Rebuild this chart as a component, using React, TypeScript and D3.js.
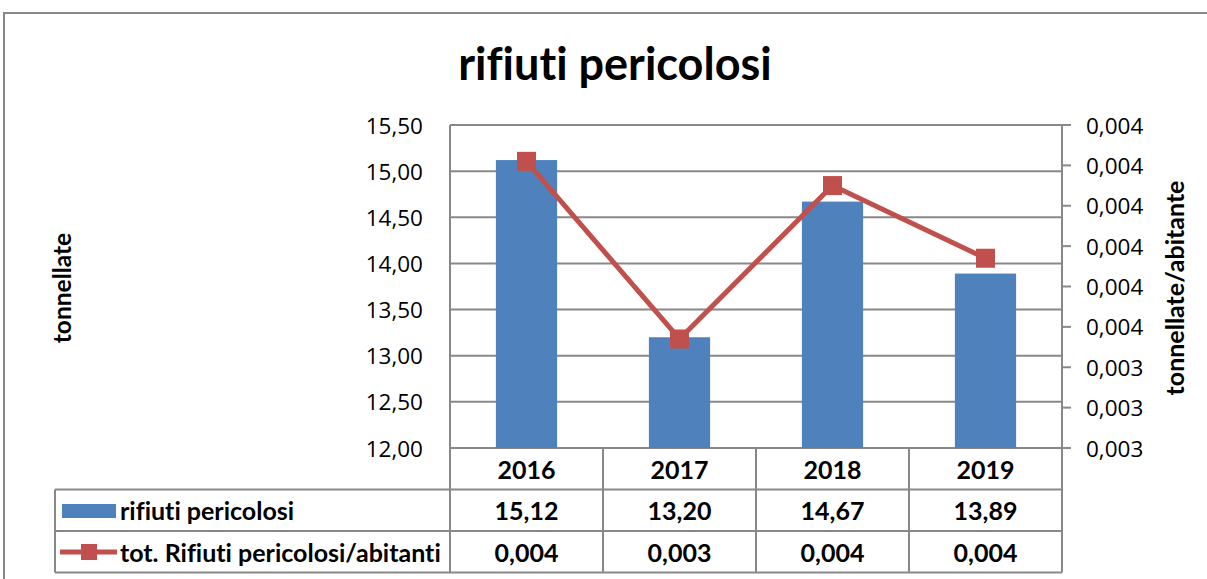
import * as d3 from 'd3';
import * as React from 'react';

const years = ['2016', '2017', '2018', '2019'];
const rifiuti = [15.12, 13.2, 14.67, 13.89];
const perAbitante = [0.00391, 0.00347, 0.00385, 0.00367];
const tableRifiuti = ['15,12', '13,20', '14,67', '13,89'];
const tablePerAbitante = ['0,004', '0,003', '0,004', '0,004'];

const barColor = '#4F81BD';
const lineColor = '#C0504D';
const gridColor = '#888888';
const boldFont = 'Lato, "Open Sans", sans-serif';
const tickFont = '"Open Sans", "DejaVu Sans", sans-serif';
const noLig = { fontVariantLigatures: 'none', fontFeatureSettings: '"liga" 0' } as React.CSSProperties;

const it = d3.formatLocale({ decimal: ',', thousands: '.', grouping: [3], currency: ['', '€'] });
const fmt2 = it.format('.2f');
const fmt3 = (v: number) => it.format('.3f')(v + 1e-9);

const App: React.FC = () => {
  const width = 1207;
  const height = 579;
  const left = 450;
  const right = 1062;
  const top = 125;
  const bottom = 448;
  const rowH = 41.5;
  const tableLeft = 55;

  const x = d3.scaleBand<string>().domain(years).range([left, right]).paddingInner(0.6).paddingOuter(0.3);
  const cols = d3.scaleBand<string>().domain(years).range([left, right]);
  const y = d3.scaleLinear().domain([12, 15.5]).range([bottom, top]);
  const y2 = d3.scaleLinear().domain([0.0032, 0.004]).range([bottom, top]);

  const leftTicks = y.ticks(7);
  const rightTicks = y2.ticks(8);

  const line = d3
    .line<number>()
    .x((_, i) => x(years[i])! + x.bandwidth() / 2)
    .y((d) => y2(d));

  const rows = [bottom, bottom + rowH, bottom + 2 * rowH, bottom + 3 * rowH];
  const mk = 19;

  return (
    <svg width={width} height={height} style={{ position: 'absolute', left: 0, top: 0, background: '#fff', ...noLig }}>
      <rect x={4} y={13} width={1300} height={700} fill="#fff" stroke={gridColor} strokeWidth={2} />

      <text x={615} y={80} textAnchor="middle" fontFamily={boldFont} fontWeight="bold" fontSize={45} fill="#000" style={noLig}>
        rifiuti pericolosi
      </text>

      {/* gridlines */}
      {leftTicks.map((t) => (
        <line key={t} x1={left} x2={right} y1={y(t)} y2={y(t)} stroke={gridColor} strokeWidth={2} />
      ))}
      <line x1={left} x2={left} y1={top} y2={rows[3]} stroke={gridColor} strokeWidth={2} />
      <line x1={right} x2={right} y1={top} y2={rows[3]} stroke={gridColor} strokeWidth={2} />
      {rightTicks.map((t) => (
        <line key={t} x1={right} x2={right + 9} y1={y2(t)} y2={y2(t)} stroke={gridColor} strokeWidth={2} />
      ))}

      {/* left tick labels */}
      {leftTicks.map((t) => (
        <text key={t} x={423} y={y(t)} textAnchor="end" dominantBaseline="central" fontFamily={tickFont} fontSize={22.5} fill="#000">
          {fmt2(t)}
        </text>
      ))}
      {rightTicks.map((t) => (
        <text key={t} x={1086} y={y2(t)} textAnchor="start" dominantBaseline="central" fontFamily={tickFont} fontSize={22.5} fill="#000">
          {fmt3(t)}
        </text>
      ))}

      {/* axis titles */}
      <text transform={`translate(61,${288}) rotate(-90)`} textAnchor="middle" dominantBaseline="central" fontFamily={boldFont} fontWeight="bold" fontSize={24.5} fill="#000">
        tonnellate
      </text>
      <text transform={`translate(1174,${288}) rotate(-90)`} textAnchor="middle" dominantBaseline="central" fontFamily={boldFont} fontWeight="bold" fontSize={25} fill="#000">
        tonnellate/abitante
      </text>

      {/* bars */}
      {rifiuti.map((v, i) => (
        <rect key={years[i]} x={x(years[i])} y={y(v)} width={x.bandwidth()} height={bottom - y(v)} fill={barColor} />
      ))}

      {/* line */}
      <path d={line(perAbitante) ?? ''} fill="none" stroke={lineColor} strokeWidth={5} strokeLinejoin="round" />
      {perAbitante.map((v, i) => (
        <rect key={years[i]} x={x(years[i])! + x.bandwidth() / 2 - mk / 2} y={y2(v) - mk / 2} width={mk} height={mk} fill={lineColor} />
      ))}

      {/* data table */}
      {rows.slice(1).map((ry) => (
        <line key={ry} x1={tableLeft} x2={right} y1={ry} y2={ry} stroke={gridColor} strokeWidth={2} />
      ))}
      <line x1={tableLeft} x2={tableLeft} y1={rows[1]} y2={rows[3]} stroke={gridColor} strokeWidth={2} />
      {years.slice(1).map((yr) => (
        <line key={yr} x1={cols(yr)} x2={cols(yr)} y1={bottom} y2={rows[3]} stroke={gridColor} strokeWidth={2} />
      ))}
      {years.map((yr, i) => (
        <g key={yr} fontFamily={boldFont} fontWeight="bold" fontSize={25} fill="#000" textAnchor="middle">
          <text x={cols(yr)! + cols.bandwidth() / 2} y={(rows[0] + rows[1]) / 2} dominantBaseline="central">{yr}</text>
          <text x={cols(yr)! + cols.bandwidth() / 2} y={(rows[1] + rows[2]) / 2} dominantBaseline="central">{tableRifiuti[i]}</text>
          <text x={cols(yr)! + cols.bandwidth() / 2} y={(rows[2] + rows[3]) / 2} dominantBaseline="central">{tablePerAbitante[i]}</text>
        </g>
      ))}

      {/* legend keys */}
      <rect x={62} y={504} width={54} height={14} fill={barColor} />
      <line x1={60} x2={117} y1={552} y2={552} stroke={lineColor} strokeWidth={5} />
      <rect x={81} y={544} width={16} height={16} fill={lineColor} />
      <g fontFamily={boldFont} fontWeight="bold" fontSize={25} fill="#000">
        <text x={120} y={(rows[1] + rows[2]) / 2} dominantBaseline="central">rifiuti pericolosi</text>
        <text x={120} y={(rows[2] + rows[3]) / 2} dominantBaseline="central">tot. Rifiuti pericolosi/abitanti</text>
      </g>
    </svg>
  );
};

export default App;
